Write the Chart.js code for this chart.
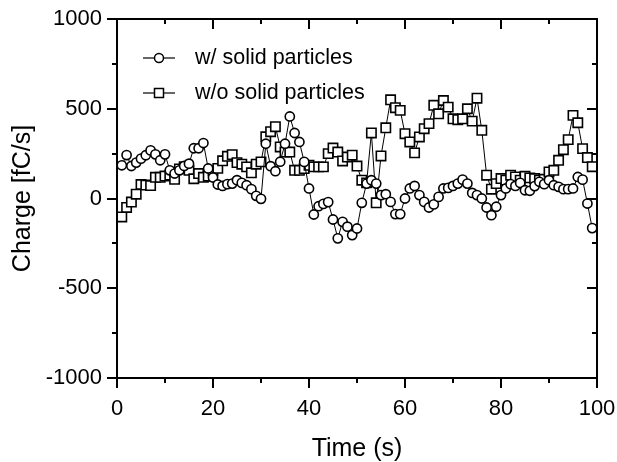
<!DOCTYPE html>
<html>
<head>
<meta charset="utf-8">
<script src="https://cdn.jsdelivr.net/npm/chart.js"></script>
<style>
  html, body { margin: 0; padding: 0; background: #fff; }
  #wrap { width: 617px; height: 462px; }
</style>
</head>
<body>
<div id="wrap"><canvas id="chart"></canvas></div>
<script>
// charge traces, one point per second
var seconds = [1,2,3,4,5,6,7,8,9,10,11,12,13,14,15,16,17,18,19,20,
  21,22,23,24,25,26,27,28,29,30,31,32,33,34,35,36,37,38,39,40,
  41,42,43,44,45,46,47,48,49,50,51,52,53,54,55,56,57,58,59,60,
  61,62,63,64,65,66,67,68,69,70,71,72,73,74,75,76,77,78,79,80,
  81,82,83,84,85,86,87,88,89,90,91,92,93,94,95,96,97,98,99];

var withSolid = [185,242,181,200,222,241,268,246,213,246,
  157,139,157,181,194,280,280,309,167,117,
  78,70,80,83,102,87,74,52,15,-2,
  305,180,152,205,305,457,365,315,204,56,
  -89,-43,-30,-20,-117,-222,-130,-157,-204,-167,
  -24,83,102,83,19,24,-19,-87,-87,0,
  56,70,19,-19,-50,-33,9,56,59,70,
  83,105,83,31,19,0,-50,-93,-46,19,
  56,80,70,87,46,43,69,93,80,102,
  74,65,52,52,56,120,105,-28,-165];

var withoutSolid = [-103,-50,-20,24,78,75,72,118,118,125,
  130,107,165,177,157,110,139,118,124,155,
  168,210,235,244,200,191,176,143,191,204,
  344,372,400,287,259,259,157,157,167,185,
  176,176,176,250,281,259,209,231,241,181,
  102,87,365,-24,237,394,550,506,491,361,
  315,254,343,389,417,519,472,546,509,444,
  439,444,500,431,559,380,130,52,83,111,
  102,130,120,102,124,115,111,102,107,148,
  157,213,272,328,463,422,278,228,177];

var seriesNames = ["w/ solid particles", "w/o solid particles"];
var xTicks = [0, 20, 40, 60, 80, 100];
var yTicks = [-1000, -500, 0, 500, 1000];

var FONT = "'Liberation Sans', Arial, sans-serif";

function pairs(vals) {
  return seconds.map(function (t, i) { return { x: t, y: vals[i] }; });
}

// box frame + ticks (out on left/bottom, in on top/right), legend inside plot
var framePlugin = {
  id: 'frame',
  afterDatasetsDraw: function (chart) {
    var ctx = chart.ctx, a = chart.chartArea;
    var xs = chart.scales.x, ys = chart.scales.y;
    ctx.save();
    ctx.strokeStyle = '#000';
    ctx.lineWidth = 2;
    ctx.strokeRect(a.left, a.top, a.right - a.left, a.bottom - a.top);

    ctx.beginPath();
    xs.ticks.forEach(function (tk) {
      var px = Math.round(xs.getPixelForValue(tk.value));
      var len = xTicks.indexOf(tk.value) >= 0 ? 10 : 5;
      ctx.moveTo(px, a.bottom); ctx.lineTo(px, a.bottom + len);
      ctx.moveTo(px, a.top); ctx.lineTo(px, a.top + len);
    });
    ys.ticks.forEach(function (tk) {
      var py = Math.round(ys.getPixelForValue(tk.value));
      var len = yTicks.indexOf(tk.value) >= 0 ? 10 : 5;
      ctx.moveTo(a.left, py); ctx.lineTo(a.left - len, py);
      ctx.moveTo(a.right, py); ctx.lineTo(a.right - len, py);
    });
    ctx.stroke();

    // legend
    var rows = [58, 93];
    chart.data.datasets.forEach(function (ds, i) {
      var y = rows[i];
      ctx.lineWidth = 1.2;
      ctx.beginPath();
      ctx.moveTo(143, y); ctx.lineTo(175, y);
      ctx.stroke();
      ctx.fillStyle = '#fff';
      ctx.lineWidth = 1.5;
      ctx.beginPath();
      if (ds.pointStyle === 'rect') {
        ctx.rect(159 - 4.5, y - 4.5, 9, 9);
      } else {
        ctx.arc(159, y, 4.5, 0, Math.PI * 2);
      }
      ctx.fill();
      ctx.stroke();
      ctx.fillStyle = '#000';
      ctx.font = '21.5px ' + FONT;
      ctx.textBaseline = 'middle';
      ctx.textAlign = 'left';
      ctx.fillText(ds.label, 195, y);
    });
    ctx.restore();
  }
};

new Chart(document.getElementById('chart'), {
  type: 'line',
  data: {
    datasets: [
      {
        label: seriesNames[0],
        data: pairs(withSolid),
        borderColor: '#000',
        borderWidth: 1,
        pointStyle: 'circle',
        pointRadius: 4.6,
        pointBorderWidth: 1.6,
        pointBackgroundColor: '#fff',
        pointBorderColor: '#000',
        tension: 0
      },
      {
        label: seriesNames[1],
        data: pairs(withoutSolid),
        borderColor: '#000',
        borderWidth: 1,
        pointStyle: 'rect',
        pointRadius: 6.6,
        pointBorderWidth: 1.6,
        pointBackgroundColor: '#fff',
        pointBorderColor: '#000',
        tension: 0
      }
    ]
  },
  options: {
    responsive: true,
    maintainAspectRatio: false,
    animation: false,
    layout: { padding: { top: 19, right: 20, left: 0, bottom: 0 } },
    plugins: { legend: { display: false }, tooltip: { enabled: false } },
    scales: {
      x: {
        type: 'linear',
        min: 0, max: 100,
        grid: { display: false, drawTicks: false },
        border: { display: false },
        ticks: {
          stepSize: 10,
          autoSkip: false,
          maxRotation: 0,
          padding: 18,
          color: '#000',
          font: { family: FONT, size: 22 },
          callback: function (v) { return xTicks.indexOf(v) >= 0 ? String(v) : ''; }
        },
        title: {
          display: true,
          text: 'Time (s)',
          color: '#000',
          font: { family: FONT, size: 25, lineHeight: 1 },
          padding: { top: 0, bottom: 0 }
        },
        afterFit: function (s) { s.height = 84; s.paddingLeft = 0; s.paddingRight = 0; }
      },
      y: {
        min: -1000, max: 1000,
        grid: { display: false, drawTicks: false },
        border: { display: false },
        ticks: {
          stepSize: 250,
          autoSkip: false,
          padding: 15,
          color: '#000',
          font: { family: FONT, size: 22 },
          callback: function (v) { return yTicks.indexOf(v) >= 0 ? String(v) : ''; }
        },
        title: {
          display: true,
          text: 'Charge [fC/s]',
          color: '#000',
          font: { family: FONT, size: 25, lineHeight: 1 },
          padding: { top: 11, bottom: 0 }
        },
        afterFit: function (s) { s.width = 117; s.paddingTop = 0; s.paddingBottom = 0; }
      }
    }
  },
  plugins: [framePlugin]
});
</script>
</body>
</html>
